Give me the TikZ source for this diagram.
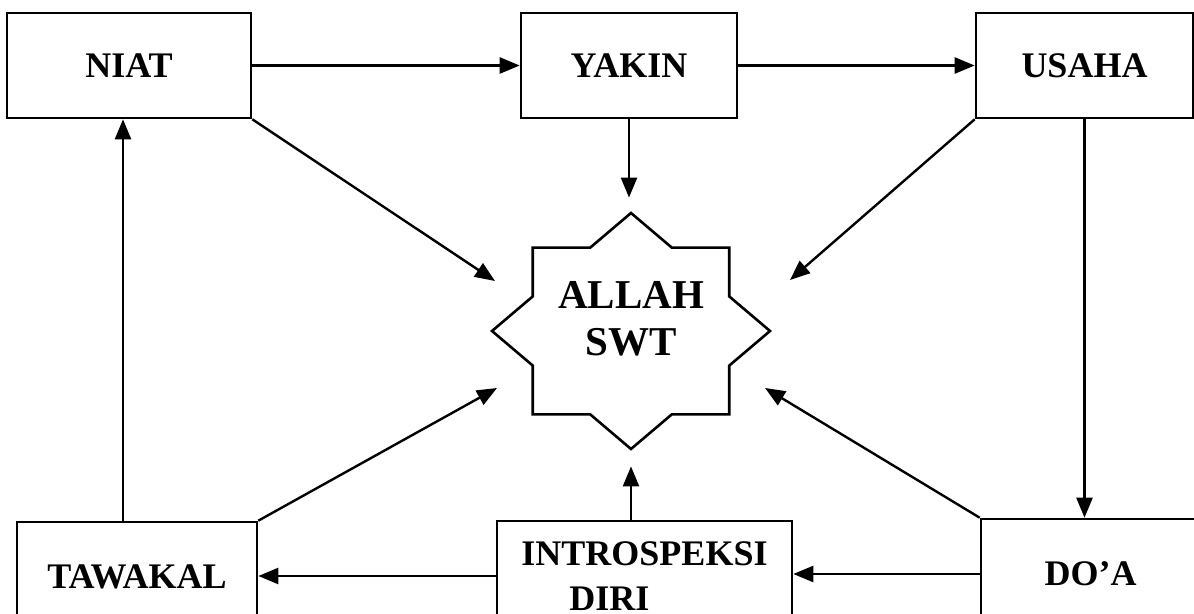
\documentclass[tikz,border=0pt]{standalone}
\usepackage{fontspec}
\setmainfont{Liberation Serif}
\usetikzlibrary{arrows.meta, calc}

\tikzset{
  kotak/.style={draw, line width=1.3pt, inner sep=0pt, align=center, minimum height=52.5pt, font=\fontsize{18}{22.5}\selectfont\bfseries},
  panah/.style={-{Triangle[length=10pt, width=8pt]}, line width=1.2pt},
}

\begin{document}
\begin{tikzpicture}[x=0.5pt, y=-0.5pt]
\useasboundingbox (0,0) rectangle (1194,614);
\clip (0,0) rectangle (1194,614);
\node[kotak, minimum width=122pt] (niat) at (129,65.5) {NIAT};
\node[kotak, minimum width=108pt] (yakin) at (629,65.5) {YAKIN};
\node[kotak, minimum width=108.5pt] (usaha) at (1084.5,65.5) {USAHA};
\node[kotak, minimum width=120pt, minimum height=55pt] (tawakal) at (137,577) {TAWAKAL};
\node[kotak, minimum width=147.5pt, minimum height=55pt] (intro) at (644.5,576) {INTROSPEKSI\\DIRI\hspace*{35pt}};
\node[kotak, minimum width=109.5pt, minimum height=55pt] (doa) at (1090.5,574) {DO’A};
\node[minimum width=139pt, minimum height=118pt, inner sep=0pt] (allah) at (631,331) {};
\node[align=center, font=\fontsize{20.5}{23.5}\selectfont\bfseries] (swt) at (631,318.5) {ALLAH\\SWT};
\draw[line width=1.3pt, shift={(allah.center)}] (139,0)
  \foreach \i [evaluate=\i as \r using {1-0.2346*mod(\i,2)}] in {1,...,15} {-- ({139*\r*cos(22.5*\i)}, {118*\r*sin(22.5*\i)})} -- cycle;
\draw[panah] (niat) -- (yakin);
\draw[panah] (yakin) -- (usaha);
\draw[panah] (usaha.south) -- (usaha.south |- doa.north);
\draw[panah, shorten >=7.5pt] (yakin.south) -- (yakin.south |- allah.north);
\draw[panah] (niat.south east) -- ($(allah.center)+(-136,-50)$);
\draw[panah] (usaha.south west) -- ($(allah.center)+(159,-51)$);
\draw[panah] (tawakal.north east) -- ($(allah.center)+(-134,57)$);
\draw[panah] (doa.north west) -- ($(allah.center)+(134,57)$);
\draw[panah, shorten >=8.5pt] (intro.north -| allah.south) -- (allah.south);
\draw[panah] (doa.west) -- (doa.west -| intro.east);
\draw[panah] (intro.west) -- (intro.west -| tawakal.east);
\draw[panah] ($(tawakal.north)+(-14,0)$) coordinate (kiri) -- (kiri |- niat.south);
\end{tikzpicture}
\end{document}
